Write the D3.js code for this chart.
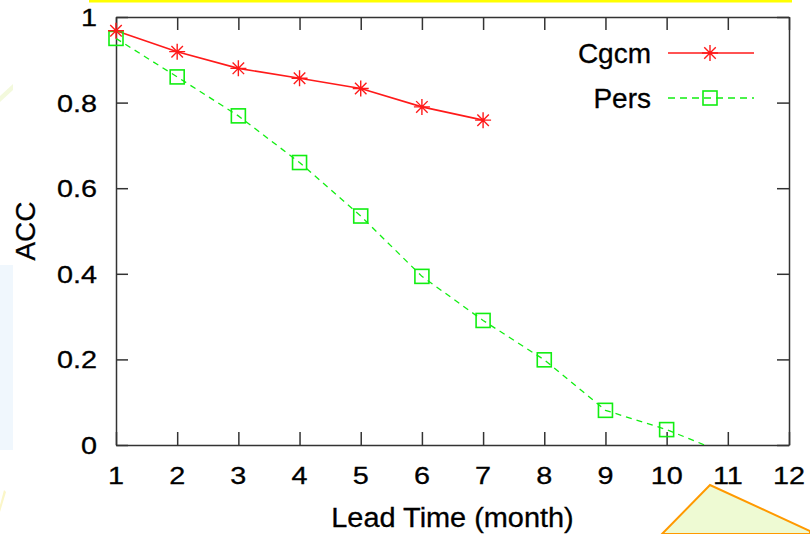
<!DOCTYPE html>
<html>
<head>
<meta charset="utf-8">
<script src="https://cdn.jsdelivr.net/npm/d3@7"></script>
<style>
  body { margin: 0; background: #fff; }
  svg text { font-family: "Liberation Sans", Arial, Helvetica, sans-serif; fill: #000; stroke: #000; stroke-width: 0.3px; }
</style>
</head>
<body>
<div id="app"></div>
<script>
// values
var xTicks = [1, 2, 3, 4, 5, 6, 7, 8, 9, 10, 11, 12];
var yTicks = [0, 0.2, 0.4, 0.6, 0.8, 1];
var yTickLabels = ["0", "0.2", "0.4", "0.6", "0.8", "1"];

var cgcmMonths = [1, 2, 3, 4, 5, 6, 7];
var cgcmAcc = [0.968, 0.919, 0.880, 0.857, 0.833, 0.790, 0.759];

var persMonths = [1, 2, 3, 4, 5, 6, 7, 8, 9, 10, 11];
var persAcc = [0.950, 0.860, 0.769, 0.660, 0.535, 0.394, 0.291, 0.199, 0.081, 0.036, -0.022];

var width = 810, height = 534;
var plotLeft = 116, plotRight = 789, plotTop = 17, plotBottom = 445;

var svg = d3.select("#app").append("svg")
    .attr("width", width)
    .attr("height", height);

// background decorations
svg.append("rect").attr("x", 89).attr("y", 0).attr("width", 703).attr("height", 2.5).attr("fill", "#ffff00");
svg.append("polygon").attr("points", "0,265 13,265 13,450 0,450").attr("fill", "#f0f7fd");
svg.append("polygon").attr("points", "0,96 13,84 13,90 0,102").attr("fill", "#f3f9dc");
svg.append("polygon").attr("points", "0,505 4,490 6,492 0,512").attr("fill", "#fbf6c8");
svg.append("polygon").attr("points", "662,534 710,485 810,531 810,534")
    .attr("fill", "#eefad3").attr("stroke", "#ff9900").attr("stroke-width", 2);

var x = d3.scaleLinear().domain([1, 12]).range([plotLeft, plotRight]);
var y = d3.scaleLinear().domain([0, 1]).range([plotBottom, plotTop]);

var axisColor = "#333";
function styleAxis(g) {
    g.selectAll("path, line").attr("stroke", axisColor).attr("stroke-width", 1.5);
    g.selectAll("text").remove();
}

svg.append("g").attr("transform", "translate(0," + plotBottom + ")")
    .call(d3.axisBottom(x).tickValues(xTicks).tickSize(-13).tickSizeOuter(0).tickFormat(""))
    .call(styleAxis);
svg.append("g").attr("transform", "translate(0," + plotTop + ")")
    .call(d3.axisTop(x).tickValues(xTicks).tickSize(-13).tickSizeOuter(0).tickFormat(""))
    .call(styleAxis);
svg.append("g").attr("transform", "translate(" + plotLeft + ",0)")
    .call(d3.axisLeft(y).tickValues(yTicks).tickSize(-12).tickSizeOuter(0).tickFormat(""))
    .call(styleAxis);
svg.append("g").attr("transform", "translate(" + plotRight + ",0)")
    .call(d3.axisRight(y).tickValues(yTicks).tickSize(-12).tickSizeOuter(0).tickFormat(""))
    .call(styleAxis);

// tick labels (stretched a little horizontally like the source)
svg.selectAll(".xlab").data(xTicks).enter().append("text")
    .attr("class", "xlab")
    .attr("transform", function(d) { return "translate(" + x(d) + "," + (plotBottom + 39) + ") scale(1.2,1)"; })
    .attr("text-anchor", "middle")
    .style("font-size", "24px")
    .text(function(d) { return d; });

svg.selectAll(".ylab").data(yTicks).enter().append("text")
    .attr("class", "ylab")
    .attr("transform", function(d) { return "translate(97," + (y(d) + 9) + ") scale(1.2,1)"; })
    .attr("text-anchor", "end")
    .style("font-size", "24px")
    .text(function(d, i) { return yTickLabels[i]; });

svg.append("text")
    .attr("transform", "translate(" + ((plotLeft + plotRight) / 2) + ",527) scale(1.07,1)")
    .attr("text-anchor", "middle")
    .style("font-size", "27px")
    .text("Lead Time (month)");

svg.append("text")
    .attr("transform", "translate(35," + ((plotTop + plotBottom) / 2) + ") rotate(-90)")
    .attr("text-anchor", "middle")
    .style("font-size", "28px")
    .text("ACC");

// series
svg.append("clipPath").attr("id", "plotclip")
    .append("rect").attr("x", plotLeft).attr("y", plotTop)
    .attr("width", plotRight - plotLeft).attr("height", plotBottom - plotTop);

var red = "#ff1a1a", green = "#11ee11";

var line = d3.line()
    .x(function(d) { return x(d[0]); })
    .y(function(d) { return y(d[1]); });

var cgcmData = d3.zip(cgcmMonths, cgcmAcc);
var persData = d3.zip(persMonths, persAcc);

svg.append("path").datum(persData)
    .attr("clip-path", "url(#plotclip)")
    .attr("d", line)
    .attr("fill", "none").attr("stroke", green).attr("stroke-width", 1.3)
    .attr("stroke-dasharray", "6,5");

svg.append("path").datum(cgcmData)
    .attr("d", line)
    .attr("fill", "none").attr("stroke", red).attr("stroke-width", 1.6);

function star(g, cx, cy, r) {
    var d = r * 0.72;
    g.append("path")
        .attr("d", "M" + (cx - r) + "," + cy + "H" + (cx + r) +
                   "M" + cx + "," + (cy - r) + "V" + (cy + r) +
                   "M" + (cx - d) + "," + (cy - d) + "L" + (cx + d) + "," + (cy + d) +
                   "M" + (cx - d) + "," + (cy + d) + "L" + (cx + d) + "," + (cy - d))
        .attr("stroke", red).attr("stroke-width", 1.4).attr("fill", "none");
}
function box(g, cx, cy, r) {
    g.append("rect")
        .attr("x", cx - r).attr("y", cy - r).attr("width", 2 * r).attr("height", 2 * r)
        .attr("stroke", green).attr("stroke-width", 1.6).attr("fill", "none");
}

var marks = svg.append("g");
persData.filter(function(d) { return d[1] >= 0; }).forEach(function(d) { box(marks, x(d[0]), y(d[1]), 7); });
cgcmData.forEach(function(d) { star(marks, x(d[0]), y(d[1]), 8); });

// legend
var legendNames = ["Cgcm", "Pers"];
var legendY = [53, 98];
legendNames.forEach(function(name, i) {
    svg.append("text")
        .attr("x", 651).attr("y", legendY[i] + 10)
        .attr("text-anchor", "end")
        .style("font-size", "28px")
        .text(name);
    svg.append("line")
        .attr("x1", 668).attr("x2", 754).attr("y1", legendY[i]).attr("y2", legendY[i])
        .attr("stroke", i === 0 ? red : green)
        .attr("stroke-width", i === 0 ? 1.6 : 1.3)
        .attr("stroke-dasharray", i === 0 ? null : "7,5");
    if (i === 0) star(svg, 710, legendY[i], 8);
    else box(svg, 710, legendY[i], 7);
});
</script>
</body>
</html>
